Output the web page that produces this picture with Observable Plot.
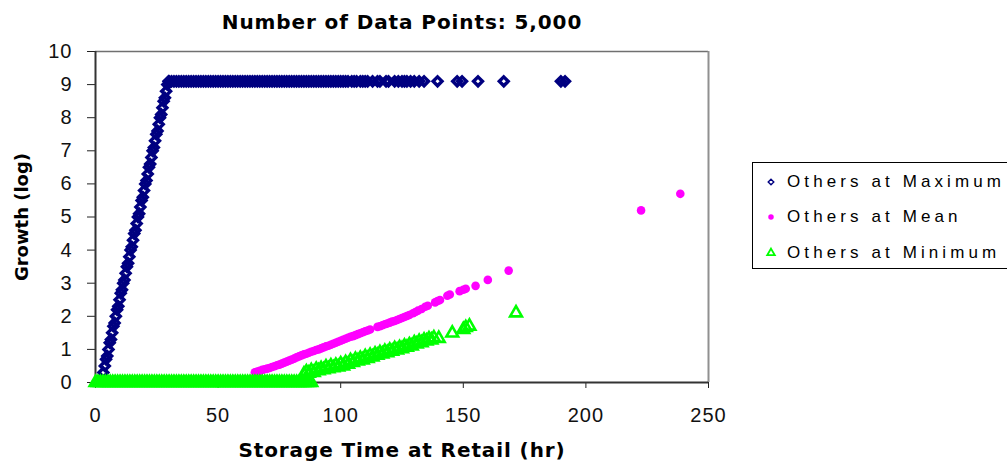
<!DOCTYPE html>
<html><head><meta charset="utf-8">
<script src="https://cdn.jsdelivr.net/npm/d3@7"></script>
<script src="https://cdn.jsdelivr.net/npm/@observablehq/plot@0.6"></script>
<style>
html,body{margin:0;padding:0;background:#fff;overflow:hidden;}
#wrap{position:relative;width:1007px;height:468px;font-family:"Liberation Sans",Arial,sans-serif;}
#legend{position:absolute;left:752px;top:162px;width:262px;height:107px;border:1px solid #000;box-sizing:border-box;background:#fff;}
#legend .row{position:absolute;left:0;height:20px;display:flex;align-items:center;font-size:17px;color:#000;white-space:nowrap;letter-spacing:4.1px;}
#legend svg{width:26px;height:20px;flex:none;}
</style>
</head><body>
<div id="wrap"></div>
<script>
const title = "Number of Data Points: 5,000";
const xLabel = "Storage Time at Retail (hr)";
const yLabel = "Growth (log)";
const xTicks = [0, 50, 100, 150, 200, 250];
const yTicks = [0, 1, 2, 3, 4, 5, 6, 7, 8, 9, 10];
const seriesNames = ["Others at Maximum", "Others at Mean", "Others at Minimum"];
const seriesColors = ["#000080", "#FF00FF", "#00FF00"];

// Others at Maximum: [time (hr), growth (log)]
const maxPoints = [
  [3.2,0.3],[3.8,0.5],[4.3,0.7],[4.8,0.8],[5.3,1.0],[5.8,1.2],[6.3,1.3],[6.8,1.5],[7.3,1.7],[7.8,1.8],
  [8.3,2.0],[8.8,2.2],[9.3,2.3],[9.8,2.5],[10.3,2.7],[10.8,2.8],[11.3,3.0],[11.8,3.1],[12.3,3.3],[12.8,3.5],
  [13.3,3.6],[13.8,3.8],[14.3,4.0],[14.8,4.1],[15.3,4.3],[15.8,4.5],[16.3,4.6],[16.8,4.8],[17.3,5.0],[17.8,5.1],
  [18.3,5.3],[18.8,5.5],[19.3,5.6],[19.8,5.8],[20.3,6.0],[20.8,6.1],[21.3,6.3],[21.8,6.5],[22.3,6.6],[22.8,6.8],
  [23.3,7.0],[23.8,7.1],[24.3,7.3],[24.8,7.5],[25.3,7.6],[25.8,7.8],[26.3,8.0],[26.8,8.1],[27.3,8.3],[27.8,8.5],
  [28.3,8.6],[28.8,8.8],[29.3,9.0],[29.8,9.1],
  [30,9.1],[31,9.1],[32,9.1],[33,9.1],[34,9.1],[35,9.1],[36,9.1],[37,9.1],[38,9.1],[39,9.1],
  [40,9.1],[41,9.1],[42,9.1],[43,9.1],[44,9.1],[45,9.1],[46,9.1],[47,9.1],[48,9.1],[49,9.1],
  [50,9.1],[51,9.1],[52,9.1],[53,9.1],[54,9.1],[55,9.1],[56,9.1],[57,9.1],[58,9.1],[59,9.1],
  [60,9.1],[61,9.1],[62,9.1],[63,9.1],[64,9.1],[65,9.1],[66,9.1],[67,9.1],[68,9.1],[69,9.1],
  [70,9.1],[71,9.1],[72,9.1],[73,9.1],[74,9.1],[75,9.1],[76,9.1],[77,9.1],[78,9.1],[79,9.1],
  [80,9.1],[81,9.1],[82,9.1],[83,9.1],[84,9.1],[85,9.1],[86,9.1],[87,9.1],[88,9.1],[89,9.1],
  [90,9.1],[91,9.1],[92,9.1],[93,9.1],[94,9.1],[95,9.1],[96,9.1],[97,9.1],[98,9.1],[99,9.1],
  [100,9.1],[101,9.1],[102,9.1],[103,9.1],[104.5,9.1],[105.5,9.1],[106.5,9.1],[108,9.1],[109,9.1],[110,9.1],
  [111,9.1],[113,9.1],[115,9.1],[116,9.1],[118.5,9.1],[119.5,9.1],[122,9.1],[123.5,9.1],[125,9.1],[126,9.1],
  [127,9.1],[128.5,9.1],[130,9.1],[132,9.1],[134,9.1],[139.5,9.1],[147.5,9.1],[149.5,9.1],[156,9.1],[166.5,9.1],
  [189.8,9.1],[191.5,9.1]
];

// Others at Mean
const meanPoints = [
  [0,0],[4,0],[8,0],[12,0],[16,0],[20,0],[24,0],[28,0],[32,0],[36,0],[40,0],[44,0],[48,0],[52,0],[56,0],[60,0],[64,0],
  [65,0.31],[66,0.33],[67,0.35],[68,0.38],[69,0.40],[70,0.42],[71,0.44],[72,0.47],[73,0.49],[74,0.52],
  [75,0.54],[76,0.57],[77,0.60],[78,0.63],[79,0.66],[80,0.69],[81,0.72],[82,0.76],[83,0.79],[84,0.82],
  [85,0.85],[86,0.87],[87,0.90],[88,0.93],[89,0.95],[90,0.98],[91,1.00],[92,1.03],[93,1.06],[94,1.09],
  [95,1.11],[96,1.14],[97,1.17],[98,1.20],[99,1.23],[100,1.26],[101,1.29],[102,1.32],[103,1.35],[104,1.38],
  [105,1.40],[106,1.43],[107,1.46],[108,1.49],[109,1.52],[110,1.55],[111,1.57],[112,1.60],[115,1.68],[116,1.70],
  [117,1.73],[118,1.76],[119,1.78],[120,1.81],[121,1.84],[122,1.86],[123,1.89],[124,1.92],[125,1.95],[126,1.98],
  [127,2.01],[128,2.04],[129.5,2.09],[130.5,2.13],[131.5,2.17],[133,2.22],[134.5,2.29],[135.5,2.32],[138.5,2.42],[139.5,2.46],
  [140.5,2.49],[143.5,2.62],[144.5,2.66],[148.5,2.76],[150,2.80],[151,2.83],[155,2.92],[160,3.10],[168.5,3.38],
  [222.5,5.2],[238.5,5.7]
];

// Others at Minimum
const minPoints = [
  [0,0],[1,0],[2,0],[3,0],[4,0],[5,0],[6,0],[7,0],[8,0],[9,0],[10,0],[11,0],[12,0],[13,0],[14,0],[15,0],
  [16,0],[17,0],[18,0],[19,0],[20,0],[21,0],[22,0],[23,0],[24,0],[25,0],[26,0],[27,0],[28,0],[29,0],[30,0],
  [31,0],[32,0],[33,0],[34,0],[35,0],[36,0],[37,0],[38,0],[39,0],[40,0],[41,0],[42,0],[43,0],[44,0],[45,0],
  [46,0],[47,0],[48,0],[49,0],[50,0],[51,0],[52,0],[53,0],[54,0],[55,0],[56,0],[57,0],[58,0],[59,0],[60,0],
  [61,0],[62,0],[63,0],[64,0],[65,0],[66,0],[67,0],[68,0],[69,0],[70,0],[71,0],[72,0],[73,0],[74,0],[75,0],
  [76,0],[77,0],[78,0],[79,0],[80,0],[81,0],[82,0],[83,0],[84,0],[85,0],[86,0],[87,0],[88,0],
  [85,0.25],[86,0.32],[87,0.28],[88,0.36],[89,0.30],[90,0.40],[91,0.35],[92,0.42],[93,0.38],[94,0.47],
  [95,0.41],[96,0.50],[97,0.44],[98,0.52],[99,0.47],[100,0.56],[101,0.50],[102,0.60],[103,0.55],[104,0.66],
  [105,0.60],[106,0.70],[107,0.65],[108,0.73],[109,0.68],[110,0.78],[111,0.72],[112,0.82],[113,0.77],[114,0.86],
  [115,0.82],[116,0.90],[117,0.86],[118,0.94],[119,0.90],[120,0.98],[121,0.94],[122,1.02],[123,0.98],[124,1.05],
  [125,1.02],[126,1.10],[127,1.06],[128,1.14],[129,1.10],[130,1.20],[131,1.16],[132,1.24],[133,1.20],[134,1.28],
  [135,1.25],[136,1.32],[137,1.28],[138,1.35],[140,1.33],[145.5,1.49],[150,1.60],[151,1.66],[152.5,1.70],
  [171.5,2.10]
];

const font = "Liberation Sans, Arial, sans-serif";
const boldFont = "DejaVu Sans, Verdana, sans-serif";
const chart = Plot.plot({
  width: 1007,
  height: 468,
  marginLeft: 95,
  marginRight: 299,
  marginTop: 51,
  marginBottom: 86,
  style: {fontFamily: font, fontSize: "20px", color: "#000", background: "transparent", overflow: "visible"},
  x: {domain: [0, 250]},
  y: {domain: [0, 10]},
  marks: [
    Plot.ruleY([10], {stroke: "#707070", strokeWidth: 1.5}),
    Plot.ruleX([250], {stroke: "#909090", strokeWidth: 2}),
    Plot.axisX({ticks: xTicks, tickSize: 6, tickPadding: 19, label: null, fontSize: 20, stroke: "#222", fill: "#111"}),
    Plot.axisY({ticks: yTicks, tickSize: 8, tickPadding: 15, label: null, fontSize: 20, stroke: "#222", fill: "#111"}),
    Plot.ruleX([0], {stroke: "#333", strokeWidth: 2}),
    Plot.ruleY([0], {stroke: "#333", strokeWidth: 2}),
    Plot.dot(maxPoints, {x: d => d[0], y: d => d[1], symbol: "diamond2", r: 4, stroke: seriesColors[0], strokeWidth: 3.4, fill: "none"}),
    Plot.dot(meanPoints, {x: d => d[0], y: d => d[1], symbol: "circle", r: 4.3, fill: seriesColors[1], stroke: "none"}),
    Plot.dot(minPoints, {x: d => d[0], y: d => d[1], symbol: "triangle2", r: 5.6, stroke: seriesColors[2], strokeWidth: 2.6, fill: "none"}),
    Plot.text([title], {frameAnchor: "top", dy: -29, lineAnchor: "middle", textAnchor: "middle", fontFamily: boldFont, fontWeight: "bold", fontSize: 20, fill: "#000"}),
    Plot.text([xLabel], {frameAnchor: "bottom", dy: 68, lineAnchor: "middle", textAnchor: "middle", fontFamily: boldFont, fontWeight: "bold", fontSize: 20, fill: "#000"}),
    Plot.text([yLabel], {frameAnchor: "left", dx: -73, rotate: -90, lineAnchor: "middle", textAnchor: "middle", fontFamily: boldFont, fontWeight: "bold", fontSize: 18, fill: "#000"})
  ]
});
const wrap = document.getElementById("wrap");
wrap.appendChild(chart);

// letter spacing to mimic the reference's wide bitmap fonts
chart.querySelectorAll("text").forEach(t => {
  const s = t.textContent;
  if (s === title) t.style.letterSpacing = "0.9px";
  else if (s === xLabel) t.style.letterSpacing = "0.9px";
  else if (/^\d+$/.test(s)) t.style.letterSpacing = "1px";
});

// legend
const legend = document.createElement("div");
legend.id = "legend";
const rowTops = [9, 44, 80];
seriesNames.forEach((name, i) => {
  const row = document.createElement("div");
  row.className = "row";
  row.style.top = rowTops[i] + "px";
  row.style.left = "8px";
  const ns = "http://www.w3.org/2000/svg";
  const s = document.createElementNS(ns, "svg");
  const p = document.createElementNS(ns, "path");
  const sym = i === 0 ? d3.symbolDiamond2 : i === 1 ? d3.symbolCircle : d3.symbolTriangle2;
  const size = i === 0 ? 20 : i === 1 ? 24 : 42;
  p.setAttribute("d", d3.symbol(sym, size)());
  p.setAttribute("transform", "translate(10,10)");
  if (i === 1) { p.setAttribute("fill", seriesColors[i]); }
  else { p.setAttribute("fill", "none"); p.setAttribute("stroke", seriesColors[i]); p.setAttribute("stroke-width", i === 2 ? 1.8 : 1.4); }
  s.appendChild(p);
  row.appendChild(s);
  const t = document.createElement("span");
  t.textContent = name;
  row.appendChild(t);
  legend.appendChild(row);
});
wrap.appendChild(legend);
</script>
</body></html>
